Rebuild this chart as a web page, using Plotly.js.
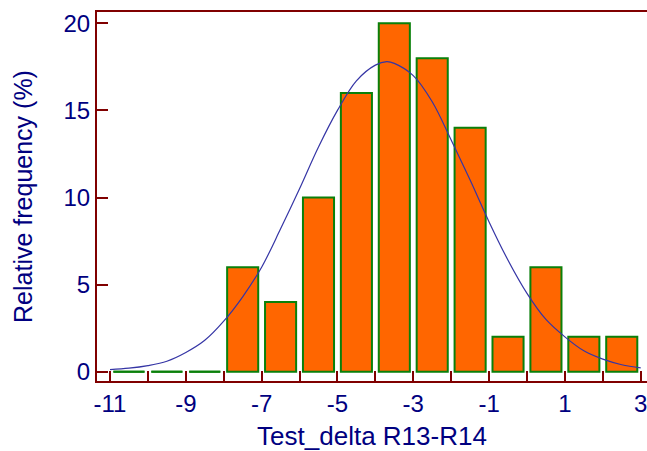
<!DOCTYPE html>
<html>
<head>
<meta charset="utf-8">
<script src="https://cdn.plot.ly/plotly-3.0.1.min.js"></script>
<style>
  html, body { margin: 0; padding: 0; background: #ffffff; }
  #chart { width: 647px; height: 451px; }
</style>
</head>
<body>
<div id="chart"></div>
<script>
// Histogram bins (left edges, width 1) and relative frequencies (%)
const binLeft = [-11, -10, -9, -8, -7, -6, -5, -4, -3, -2, -1, 0, 1, 2];
const binWidth = 1;
const freq = [0, 0, 0, 6, 4, 10, 16, 20, 18, 14, 2, 6, 2, 2];

// Fitted normal curve
const curveX = [-11, -10.5, -10, -9.5, -9, -8.5, -8, -7.5, -7, -6.5, -6, -5.5, -5, -4.5, -4, -3.7, -3.5, -3, -2.5, -2, -1.5, -1, -0.5, 0, 0.5, 1, 1.5, 2, 2.5, 3];
const curveY = [0.12, 0.2, 0.35, 0.6, 1.1, 1.8, 2.9, 4.3, 6.0, 8.2, 10.5, 12.9, 15.0, 16.7, 17.6, 17.8, 17.7, 17.0, 15.5, 13.3, 11.0, 8.6, 6.4, 4.5, 3.0, 2.0, 1.2, 0.72, 0.4, 0.22];

// Axis ticks
const xTickVals = [-11, -10, -9, -8, -7, -6, -5, -4, -3, -2, -1, 0, 1, 2, 3];
const xTickText = ['-11', '', '-9', '', '-7', '', '-5', '', '-3', '', '-1', '', '1', '', '3'];
const yTickVals = [0, 5, 10, 15, 20];

const xTitle = 'Test_delta R13-R14';
const yTitle = 'Relative frequency (%)';

const barFill = '#FF6600';
const barEdge = '#0a800a';
const axisColor = '#800000';
const textColor = '#000080';
const curveColor = '#3535a5';
const barFrac = 0.82;

const centers = binLeft.map(v => v + binWidth / 2);

const barTrace = {
  type: 'bar',
  x: centers,
  y: freq,
  width: centers.map(() => binWidth * barFrac),
  marker: { color: barFill, line: { color: barEdge, width: 2 } },
  hoverinfo: 'x+y',
  showlegend: false
};

const curveTrace = {
  type: 'scatter',
  mode: 'lines',
  x: curveX,
  y: curveY,
  line: { color: curveColor, width: 1.2, shape: 'spline', smoothing: 1 },
  showlegend: false
};

// zero-height bins are drawn as a flat outline on the baseline
const zeroShapes = [];
freq.forEach((f, i) => {
  if (f === 0) {
    zeroShapes.push({
      type: 'line', xref: 'x', yref: 'y',
      x0: centers[i] - binWidth * barFrac / 2,
      x1: centers[i] + binWidth * barFrac / 2,
      y0: 0, y1: 0,
      line: { color: barEdge, width: 2 },
      layer: 'above'
    });
  }
});

const fontFam = '"Liberation Sans", Arial, sans-serif';

const layout = {
  width: 647,
  height: 451,
  margin: { l: 97, r: 0, t: 12, b: 70 },
  paper_bgcolor: '#ffffff',
  plot_bgcolor: '#ffffff',
  bargap: 0,
  font: { family: fontFam, color: textColor, size: 24 },
  xaxis: {
    range: [-11.343, 3.166],
    tickmode: 'array',
    tickvals: xTickVals,
    ticktext: xTickText,
    ticks: 'inside',
    ticklen: 10,
    tickwidth: 2,
    tickcolor: axisColor,
    showline: true,
    linecolor: axisColor,
    linewidth: 2,
    mirror: true,
    showgrid: false,
    zeroline: false,
    ticklabeloverflow: 'allow',
    tickfont: { family: fontFam, color: textColor, size: 24 },
    title: { text: xTitle, font: { family: fontFam, color: textColor, size: 26 }, standoff: 11 },
    automargin: false
  },
  yaxis: {
    range: [-0.534, 20.65],
    tickmode: 'array',
    tickvals: yTickVals,
    ticks: 'inside',
    ticklen: 11,
    tickwidth: 2,
    tickcolor: axisColor,
    showline: true,
    linecolor: axisColor,
    linewidth: 2,
    mirror: false,
    showgrid: false,
    zeroline: false,
    ticklabeloverflow: 'allow',
    tickfont: { family: fontFam, color: textColor, size: 24 },
    title: { text: yTitle, font: { family: fontFam, color: textColor, size: 25 }, standoff: 24 },
    automargin: false
  },
  shapes: zeroShapes
};

Plotly.newPlot('chart', [barTrace, curveTrace], layout, { displayModeBar: false, staticPlot: true });
</script>
</body>
</html>
